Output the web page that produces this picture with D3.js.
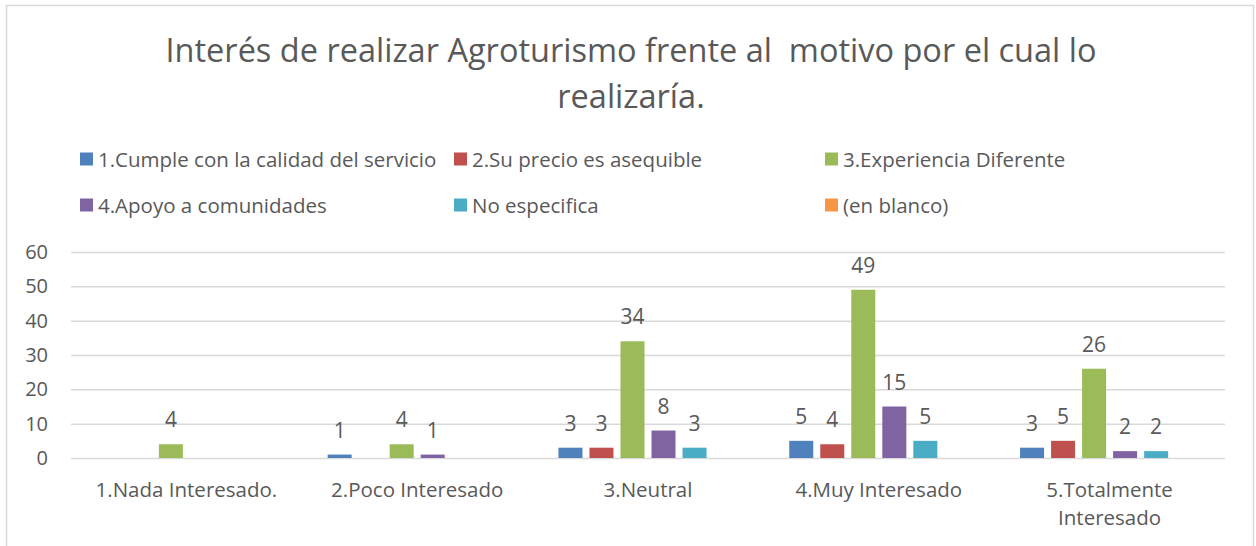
<!DOCTYPE html>
<html lang="es">
<head>
<meta charset="UTF-8">
<title>Interés de realizar Agroturismo</title>
<script src="https://d3js.org/d3.v7.min.js"></script>
<style>
    body { margin: 0; padding: 0; background: #fff; }
    svg { display: block; font-family: "Open Sans", Lato, sans-serif; }
    .grid line { stroke: #d9d9d9; stroke-width: 1.5px; }
    .grid path { display: none; }
    text { fill: #595959; }
</style>
</head>
<body>
<svg width="1256" height="546"></svg>
<script>
// Datos
const categories = ["1.Nada Interesado.", "2.Poco Interesado", "3.Neutral", "4.Muy Interesado", "5.Totalmente Interesado"];
const seriesNames = ["1.Cumple con la calidad del servicio", "2.Su precio es asequible", "3.Experiencia Diferente",
                     "4.Apoyo a comunidades", "No especifica", "(en blanco)"];
const colors = ["#4F81BD", "#C0504D", "#9BBB59", "#8064A2", "#4BACC6", "#F79646"];
// valores por serie (null = sin dato)
const cumple      = [null, 1, 3, 5, 3];
const precio      = [null, null, 3, 4, 5];
const experiencia = [4, 4, 34, 49, 26];
const apoyo       = [null, 1, 8, 15, 2];
const noEspecifica = [null, null, 3, 5, 2];
const enBlanco    = [null, null, null, null, null];
const yTicks = [0, 10, 20, 30, 40, 50, 60];

const seriesValues = [cumple, precio, experiencia, apoyo, noEspecifica, enBlanco];

const svg = d3.select("svg");

// borde del gráfico
svg.append("rect")
    .attr("x", 6.5).attr("y", 5.5)
    .attr("width", 1247).attr("height", 560)
    .attr("fill", "none")
    .attr("stroke", "#d9d9d9")
    .attr("stroke-width", 1.5);

// título
const title = svg.append("text")
    .attr("text-anchor", "middle")
    .style("font-size", "32.5px");
title.append("tspan").attr("x", 631).attr("y", 62).text("Interés de realizar Agroturismo frente al\u00a0 motivo por el cual lo");
title.append("tspan").attr("x", 631).attr("y", 108).text("realizaría.");

// leyenda
const legendPos = [[80, 159], [454, 159], [825, 159], [80, 205], [454, 205], [825, 205]];
const legend = svg.append("g").selectAll("g")
    .data(seriesNames)
    .join("g")
    .attr("transform", (d, i) => `translate(${legendPos[i][0]},${legendPos[i][1]})`);
legend.append("rect")
    .attr("x", 0).attr("y", -6.5)
    .attr("width", 13).attr("height", 13)
    .attr("fill", (d, i) => colors[i]);
legend.append("text")
    .attr("x", 18).attr("y", 7.5)
    .style("font-size", "20.5px")
    .text(d => d);

// escalas
const x0 = d3.scaleBand()
    .domain(categories)
    .range([71, 1225])
    .paddingInner(0.224)
    .paddingOuter(0.112);

const x1 = d3.scaleBand()
    .domain(d3.range(seriesNames.length))
    .range([0, x0.bandwidth()])
    .paddingInner(0.226)
    .paddingOuter(0);

const y = d3.scaleLinear()
    .domain([0, 60])
    .range([458, 252]);

// líneas de cuadrícula
svg.append("g")
    .attr("class", "grid")
    .attr("transform", "translate(71,0)")
    .call(d3.axisLeft(y).tickValues(yTicks).tickSize(-1154).tickFormat(""));

// eje Y (etiquetas)
svg.append("g").selectAll("text")
    .data(yTicks)
    .join("text")
    .attr("x", 48)
    .attr("y", d => y(d) + 7)
    .attr("text-anchor", "end")
    .style("font-size", "20px")
    .text(d => d);

// barras
const groups = svg.append("g").selectAll("g")
    .data(categories)
    .join("g")
    .attr("transform", d => `translate(${x0(d)},0)`);

const cells = groups.selectAll("g")
    .data((c, ci) => seriesValues.map((vals, si) => ({ s: si, v: vals[ci] })).filter(d => d.v !== null))
    .join("g");

cells.append("rect")
    .attr("x", d => x1(d.s))
    .attr("y", d => y(d.v))
    .attr("width", x1.bandwidth())
    .attr("height", d => y(0) - y(d.v))
    .attr("fill", d => colors[d.s]);

cells.append("text")
    .attr("x", d => x1(d.s) + x1.bandwidth() / 2)
    .attr("y", d => y(d.v) - 17)
    .attr("text-anchor", "middle")
    .style("font-size", "21px")
    .text(d => d.v);

// eje X (etiquetas)
const xLabels = svg.append("g").selectAll("text")
    .data(categories)
    .join("text")
    .attr("text-anchor", "middle")
    .style("font-size", "20.5px");

xLabels.each(function (d) {
    const t = d3.select(this);
    const cx = x0(d) + x0.bandwidth() / 2;
    const lines = d === "5.Totalmente Interesado" ? ["5.Totalmente", "Interesado"] : [d];
    lines.forEach((l, i) => {
        t.append("tspan").attr("x", cx).attr("y", 497 + i * 28).text(l);
    });
});
</script>
</body>
</html>
